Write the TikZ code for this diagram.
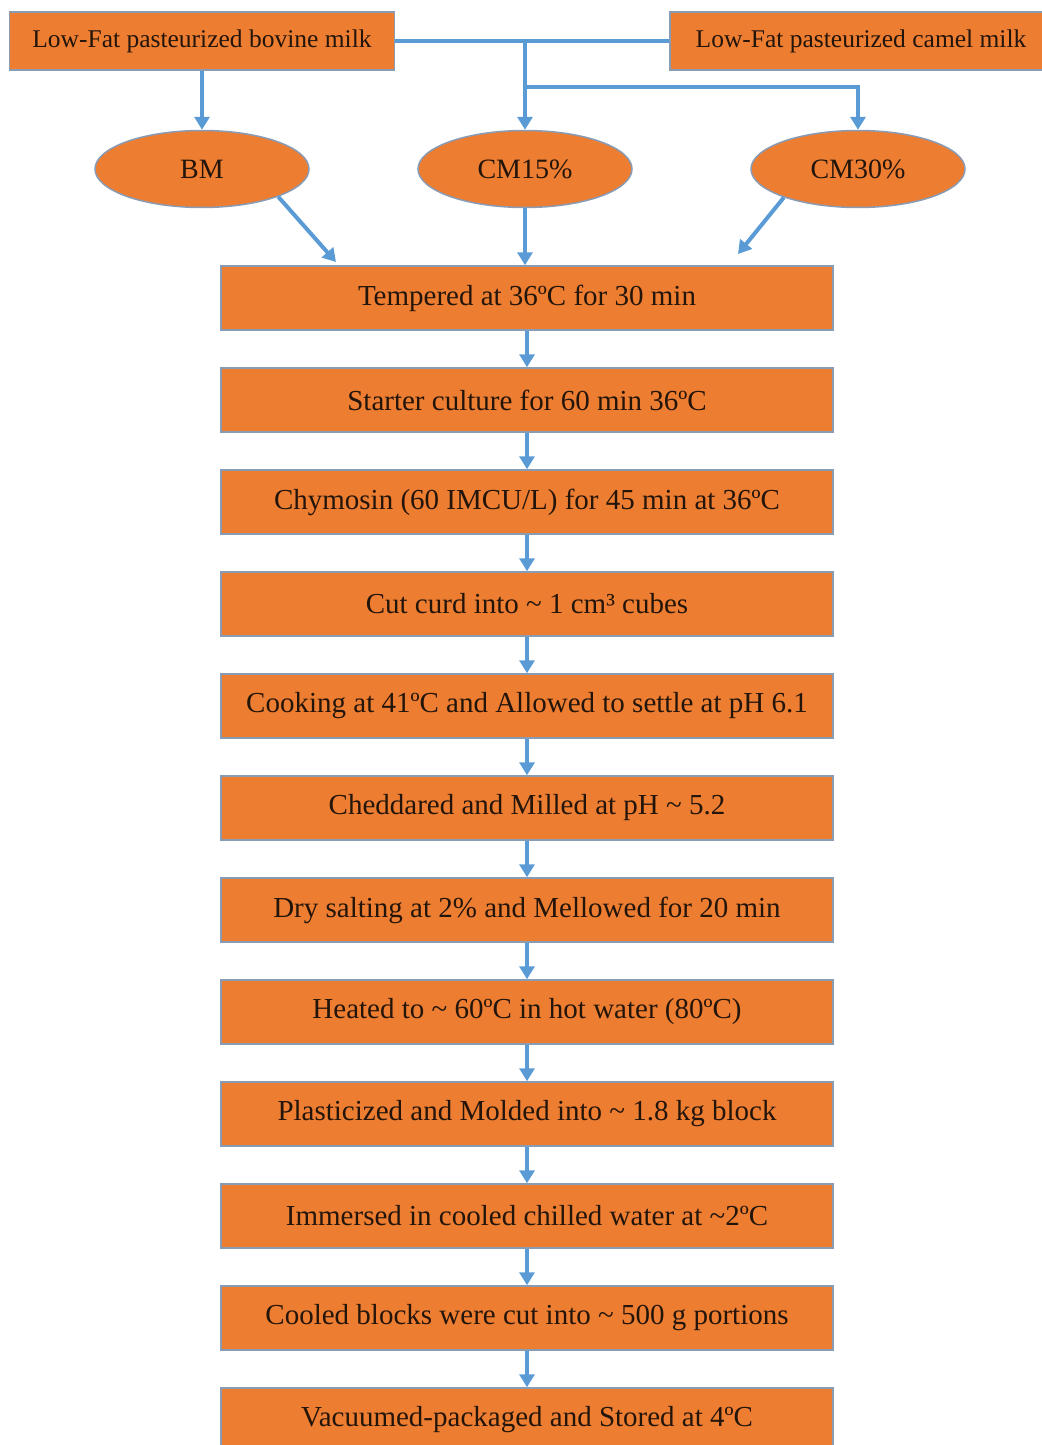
\documentclass[tikz,border=0pt]{standalone}
\usepackage{fontspec}
\setmainfont{Liberation Serif}
\usetikzlibrary{arrows.meta,positioning,shapes.geometric}
\definecolor{boxfill}{HTML}{ED7D31}
\definecolor{boxline}{HTML}{8A9BB4}
\definecolor{flow}{HTML}{5B9BD5}
\definecolor{inktext}{HTML}{24150B}
\tikzset{
    stepbox/.style={rectangle,draw=boxline,line width=1.5pt,fill=boxfill,text=inktext,minimum width=612pt,minimum height=64pt,font=\fontsize{29}{32}\selectfont},
    milkbox/.style={stepbox,minimum width=385pt,minimum height=58pt,font=\fontsize{25.5}{28}\selectfont},
    group/.style={ellipse,draw=boxline,line width=1.5pt,fill=boxfill,text=inktext,minimum width=214pt,minimum height=77pt,font=\fontsize{28}{30}\selectfont},
    flowline/.style={draw=flow,line width=4pt},
    flowarrow/.style={flowline,-{Triangle[width=15pt,length=13pt]}}
}

\begin{document}
\begin{tikzpicture}[x=1pt,y=-1pt,node distance=36.5pt]
        \useasboundingbox (0,0) rectangle (1041,1445);
        % milk sources
        \node[milkbox] (bovine) at (202,41) {Low-Fat pasteurized bovine milk};
        \node[milkbox,minimum width=382pt] (camel) at (861,41) {Low-Fat pasteurized camel milk};
        % treatments
        \node[group] (bm) at (202,169) {BM};
        \node[group] (cm15) at (525,169) {CM15\%};
        \node[group] (cm30) at (858,169) {CM30\%};
        % process steps
        \node[stepbox] (s1) at (527,298) {Tempered at 36ºC for 30 min};
        \node[stepbox,below=of s1] (s2) {Starter culture for 60 min 36ºC};
        \node[stepbox,below=of s2] (s3) {Chymosin (60 IMCU/L) for 45 min at 36ºC};
        \node[stepbox,below=of s3] (s4) {Cut curd into \textasciitilde{} 1 cm³ cubes};
        \node[stepbox,below=of s4] (s5) {Cooking at 41ºC and Allowed to settle at pH 6.1};
        \node[stepbox,below=of s5] (s6) {Cheddared and Milled at pH \textasciitilde{} 5.2};
        \node[stepbox,below=of s6] (s7) {Dry salting at 2\% and Mellowed for 20 min};
        \node[stepbox,below=of s7] (s8) {Heated to \textasciitilde{} 60ºC in hot water (80ºC)};
        \node[stepbox,below=of s8] (s9) {Plasticized and Molded into \textasciitilde{} 1.8 kg block};
        \node[stepbox,below=of s9] (s10) {Immersed in cooled chilled water at \textasciitilde2ºC};
        \node[stepbox,below=of s10] (s11) {Cooled blocks were cut into \textasciitilde{} 500 g portions};
        \node[stepbox,below=of s11] (s12) {Vacuumed-packaged and Stored at 4ºC};
        % connectors at the top
        \coordinate (j1) at (525,41);
        \coordinate (j2) at (525,87);
        \coordinate (a1) at (336,262);
        \coordinate (a2) at (738,254);
        \draw[flowline] (bovine.east) -- (camel.west);
        \draw[flowarrow] (j1) -- (cm15.north);
        \draw[flowarrow] (j2) -| (cm30.north);
        \draw[flowarrow] (bovine) -- (bm);
        \draw[flowarrow] (bm.-20) -- (a1);
        \draw[flowarrow] (cm15) -- (cm15 |- s1.north);
        \draw[flowarrow] (cm30.-159) -- (a2);
        % connectors between steps
        \draw[flowarrow] (s1) -- (s2);
        \draw[flowarrow] (s2) -- (s3);
        \draw[flowarrow] (s3) -- (s4);
        \draw[flowarrow] (s4) -- (s5);
        \draw[flowarrow] (s5) -- (s6);
        \draw[flowarrow] (s6) -- (s7);
        \draw[flowarrow] (s7) -- (s8);
        \draw[flowarrow] (s8) -- (s9);
        \draw[flowarrow] (s9) -- (s10);
        \draw[flowarrow] (s10) -- (s11);
        \draw[flowarrow] (s11) -- (s12);
\end{tikzpicture}
\end{document}
